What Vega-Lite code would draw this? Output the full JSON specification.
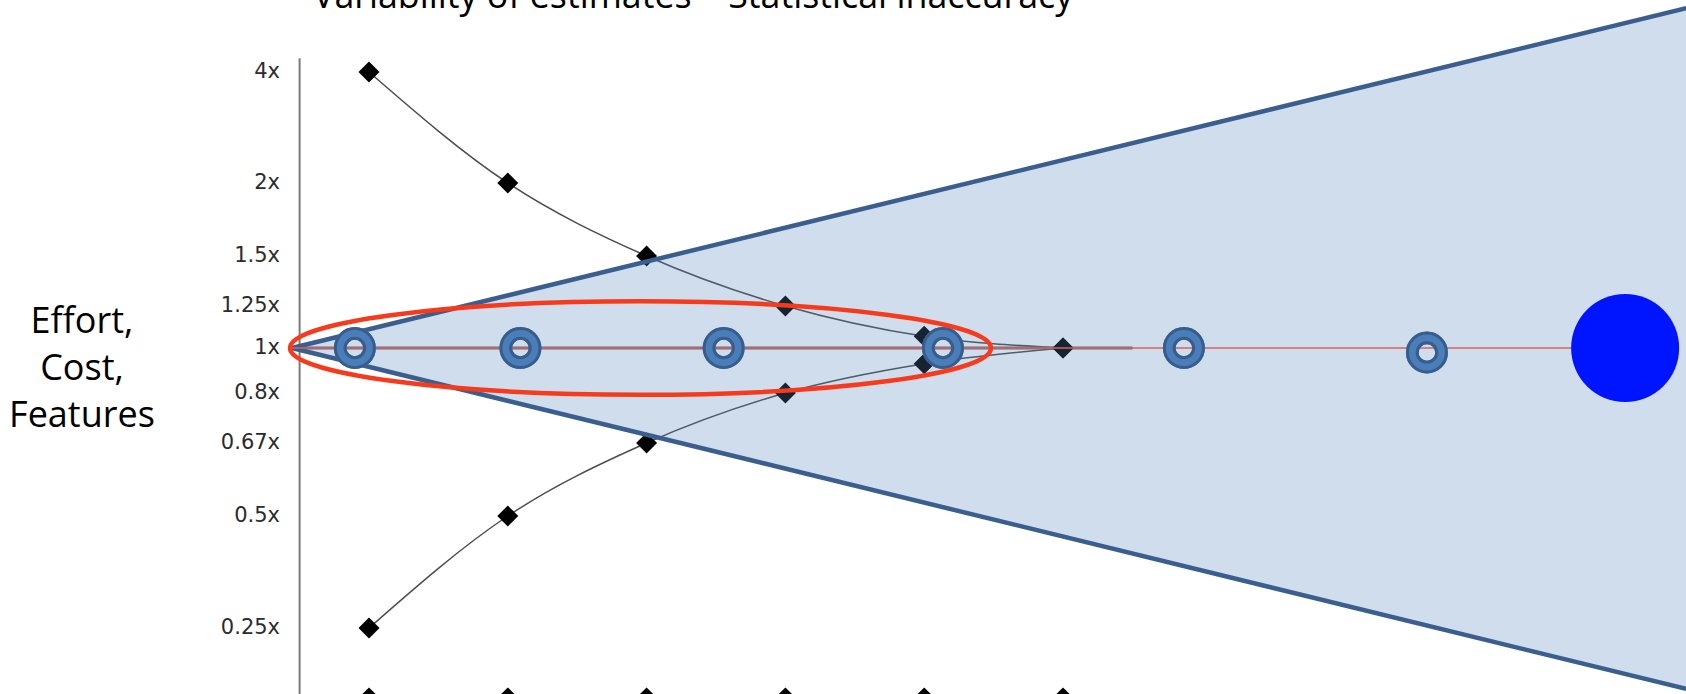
{
  "$schema": "https://vega.github.io/schema/vega-lite/v6.json",
  "width": 1686,
  "height": 694,
  "padding": 0,
  "autosize": "none",
  "background": "white",
  "config": {"view": {"stroke": null}},
  "datasets": {
    "estimates": [
      {"phase": 1, "factor": 4, "bound": "upper"},
      {"phase": 2, "factor": 2, "bound": "upper"},
      {"phase": 3, "factor": 1.5, "bound": "upper"},
      {"phase": 4, "factor": 1.25, "bound": "upper"},
      {"phase": 5, "factor": 1.07, "bound": "upper"},
      {"phase": 6, "factor": 1, "bound": "upper"},
      {"phase": 1, "factor": 0.25, "bound": "lower"},
      {"phase": 2, "factor": 0.5, "bound": "lower"},
      {"phase": 3, "factor": 0.67, "bound": "lower"},
      {"phase": 4, "factor": 0.8, "bound": "lower"},
      {"phase": 5, "factor": 0.93, "bound": "lower"},
      {"phase": 6, "factor": 1, "bound": "lower"}
    ],
    "ticks": [
      {"factor": 4, "label": "4x"},
      {"factor": 2, "label": "2x"},
      {"factor": 1.5, "label": "1.5x"},
      {"factor": 1.25, "label": "1.25x"},
      {"factor": 1, "label": "1x"},
      {"factor": 0.8, "label": "0.8x"},
      {"factor": 0.67, "label": "0.67x"},
      {"factor": 0.5, "label": "0.5x"},
      {"factor": 0.25, "label": "0.25x"}
    ],
    "milestones": [
      {"phase": 1}, {"phase": 2}, {"phase": 3}, {"phase": 4}, {"phase": 5}, {"phase": 6}
    ],
    "baseline": [
      {"phase": 0.5, "factor": 1},
      {"phase": 6.5, "factor": 1}
    ],
    "cone": [
      {"phase": 0.445, "high": 1, "low": 1},
      {"phase": 10.49, "high": 5.15, "low": 0.114}
    ],
    "target": [
      {"phase": 0.445, "factor": 1},
      {"phase": 10.05, "factor": 1}
    ],
    "checkpoints": [
      {"phase": 0.898, "factor": 1},
      {"phase": 2.091, "factor": 1},
      {"phase": 3.555, "factor": 1},
      {"phase": 5.135, "factor": 1},
      {"phase": 6.871, "factor": 1},
      {"phase": 8.622, "factor": 0.98}
    ],
    "goal": [{"phase": 10.05, "factor": 1}],
    "focus": [{"phase": 2.956, "factor": 1}],
    "ylabel": [{"label": "Effort,\nCost,\nFeatures"}],
    "heading": [{"label": "Variability of estimates – Statistical inaccuracy"}]
  },
  "layer": [
    {
      "data": {"values": [{}]},
      "mark": {"type": "rule", "color": "#7a7a7a", "strokeWidth": 2},
      "encoding": {
        "x": {"datum": 0.5, "type": "quantitative", "scale": {"domain": [1, 6], "range": [369, 1063], "nice": false, "zero": false}, "axis": null},
        "y": {"datum": 4.25, "type": "quantitative", "scale": {"domain": [0.25, 0.5, 0.67, 0.8, 1, 1.25, 1.5, 2, 4], "range": [628, 516, 443, 393, 348, 306, 256, 183, 72], "nice": false, "zero": false}, "axis": null},
        "y2": {"datum": 0.09}
      }
    },
    {
      "data": {"name": "ticks"},
      "mark": {"type": "text", "font": "DejaVu Sans", "fontSize": 21, "color": "#2b2b2b", "align": "right", "baseline": "middle"},
      "encoding": {
        "text": {"field": "label"},
        "x": {"datum": 0.359, "type": "quantitative", "scale": {"domain": [1, 6], "range": [369, 1063], "nice": false, "zero": false}, "axis": null},
        "y": {"field": "factor", "type": "quantitative", "scale": {"domain": [0.25, 0.5, 0.67, 0.8, 1, 1.25, 1.5, 2, 4], "range": [628, 516, 443, 393, 348, 306, 256, 183, 72], "nice": false, "zero": false}, "axis": null}
      }
    },
    {
      "data": {"name": "estimates"},
      "mark": {"type": "line", "color": "#4d4d4d", "strokeWidth": 1.5, "interpolate": "monotone"},
      "encoding": {
        "x": {"field": "phase", "type": "quantitative", "scale": {"domain": [1, 6], "range": [369, 1063], "nice": false, "zero": false}, "axis": null},
        "y": {"field": "factor", "type": "quantitative", "scale": {"domain": [0.25, 0.5, 0.67, 0.8, 1, 1.25, 1.5, 2, 4], "range": [628, 516, 443, 393, 348, 306, 256, 183, 72], "nice": false, "zero": false}, "axis": null},
        "detail": {"field": "bound"}
      }
    },
    {
      "data": {"name": "baseline"},
      "mark": {"type": "line", "color": "#6a6a6a", "strokeWidth": 3},
      "encoding": {
        "x": {"field": "phase", "type": "quantitative", "scale": {"domain": [1, 6], "range": [369, 1063], "nice": false, "zero": false}, "axis": null},
        "y": {"field": "factor", "type": "quantitative", "scale": {"domain": [0.25, 0.5, 0.67, 0.8, 1, 1.25, 1.5, 2, 4], "range": [628, 516, 443, 393, 348, 306, 256, 183, 72], "nice": false, "zero": false}, "axis": null}
      }
    },
    {
      "data": {"name": "estimates"},
      "mark": {"type": "point", "shape": "diamond", "filled": true, "color": "#000000", "size": 440, "opacity": 1},
      "encoding": {
        "x": {"field": "phase", "type": "quantitative", "scale": {"domain": [1, 6], "range": [369, 1063], "nice": false, "zero": false}, "axis": null},
        "y": {"field": "factor", "type": "quantitative", "scale": {"domain": [0.25, 0.5, 0.67, 0.8, 1, 1.25, 1.5, 2, 4], "range": [628, 516, 443, 393, 348, 306, 256, 183, 72], "nice": false, "zero": false}, "axis": null}
      }
    },
    {
      "data": {"name": "milestones"},
      "mark": {"type": "point", "shape": "diamond", "filled": true, "color": "#000000", "size": 440, "opacity": 1},
      "encoding": {
        "x": {"field": "phase", "type": "quantitative", "scale": {"domain": [1, 6], "range": [369, 1063], "nice": false, "zero": false}, "axis": null},
        "y": {"datum": 0.094, "type": "quantitative", "scale": {"domain": [0.25, 0.5, 0.67, 0.8, 1, 1.25, 1.5, 2, 4], "range": [628, 516, 443, 393, 348, 306, 256, 183, 72], "nice": false, "zero": false}, "axis": null}
      }
    },
    {
      "data": {"name": "cone"},
      "mark": {"type": "area", "color": "#4F81BD", "opacity": 0.27},
      "encoding": {
        "x": {"field": "phase", "type": "quantitative", "scale": {"domain": [1, 6], "range": [369, 1063], "nice": false, "zero": false}, "axis": null},
        "y": {"field": "high", "type": "quantitative", "scale": {"domain": [0.25, 0.5, 0.67, 0.8, 1, 1.25, 1.5, 2, 4], "range": [628, 516, 443, 393, 348, 306, 256, 183, 72], "nice": false, "zero": false}, "axis": null},
        "y2": {"field": "low"}
      }
    },
    {
      "data": {"name": "cone"},
      "mark": {"type": "line", "color": "#3A5F8E", "strokeWidth": 4.5},
      "encoding": {
        "x": {"field": "phase", "type": "quantitative", "scale": {"domain": [1, 6], "range": [369, 1063], "nice": false, "zero": false}, "axis": null},
        "y": {"field": "high", "type": "quantitative", "scale": {"domain": [0.25, 0.5, 0.67, 0.8, 1, 1.25, 1.5, 2, 4], "range": [628, 516, 443, 393, 348, 306, 256, 183, 72], "nice": false, "zero": false}, "axis": null}
      }
    },
    {
      "data": {"name": "cone"},
      "mark": {"type": "line", "color": "#3A5F8E", "strokeWidth": 4.5},
      "encoding": {
        "x": {"field": "phase", "type": "quantitative", "scale": {"domain": [1, 6], "range": [369, 1063], "nice": false, "zero": false}, "axis": null},
        "y": {"field": "low", "type": "quantitative", "scale": {"domain": [0.25, 0.5, 0.67, 0.8, 1, 1.25, 1.5, 2, 4], "range": [628, 516, 443, 393, 348, 306, 256, 183, 72], "nice": false, "zero": false}, "axis": null}
      }
    },
    {
      "data": {"name": "target"},
      "mark": {"type": "line", "color": "#D9605B", "strokeWidth": 1.6},
      "encoding": {
        "x": {"field": "phase", "type": "quantitative", "scale": {"domain": [1, 6], "range": [369, 1063], "nice": false, "zero": false}, "axis": null},
        "y": {"field": "factor", "type": "quantitative", "scale": {"domain": [0.25, 0.5, 0.67, 0.8, 1, 1.25, 1.5, 2, 4], "range": [628, 516, 443, 393, 348, 306, 256, 183, 72], "nice": false, "zero": false}, "axis": null}
      }
    },
    {
      "data": {"name": "checkpoints"},
      "mark": {"type": "point", "shape": "circle", "filled": false, "stroke": "#4A7EBB", "strokeWidth": 12.7, "size": 858, "opacity": 1},
      "encoding": {
        "x": {"field": "phase", "type": "quantitative", "scale": {"domain": [1, 6], "range": [369, 1063], "nice": false, "zero": false}, "axis": null},
        "y": {"field": "factor", "type": "quantitative", "scale": {"domain": [0.25, 0.5, 0.67, 0.8, 1, 1.25, 1.5, 2, 4], "range": [628, 516, 443, 393, 348, 306, 256, 183, 72], "nice": false, "zero": false}, "axis": null}
      }
    },
    {
      "data": {"name": "checkpoints"},
      "mark": {"type": "point", "shape": "circle", "filled": false, "stroke": "#385D8A", "strokeWidth": 3, "size": 1521, "opacity": 1},
      "encoding": {
        "x": {"field": "phase", "type": "quantitative", "scale": {"domain": [1, 6], "range": [369, 1063], "nice": false, "zero": false}, "axis": null},
        "y": {"field": "factor", "type": "quantitative", "scale": {"domain": [0.25, 0.5, 0.67, 0.8, 1, 1.25, 1.5, 2, 4], "range": [628, 516, 443, 393, 348, 306, 256, 183, 72], "nice": false, "zero": false}, "axis": null}
      }
    },
    {
      "data": {"name": "checkpoints"},
      "mark": {"type": "point", "shape": "circle", "filled": false, "stroke": "#385D8A", "strokeWidth": 3, "size": 384, "opacity": 1},
      "encoding": {
        "x": {"field": "phase", "type": "quantitative", "scale": {"domain": [1, 6], "range": [369, 1063], "nice": false, "zero": false}, "axis": null},
        "y": {"field": "factor", "type": "quantitative", "scale": {"domain": [0.25, 0.5, 0.67, 0.8, 1, 1.25, 1.5, 2, 4], "range": [628, 516, 443, 393, 348, 306, 256, 183, 72], "nice": false, "zero": false}, "axis": null}
      }
    },
    {
      "data": {"name": "focus"},
      "mark": {"type": "point", "shape": "M-1,0C-1,-0.0736,-0.5523,-0.1333,0,-0.1333C0.5523,-0.1333,1,-0.0736,1,0C1,0.0736,0.5523,0.1333,0,0.1333C-0.5523,0.1333,-1,0.0736,-1,0Z", "filled": false, "stroke": "#F83A1C", "strokeWidth": 4.5, "size": 491401, "opacity": 1},
      "encoding": {
        "x": {"field": "phase", "type": "quantitative", "scale": {"domain": [1, 6], "range": [369, 1063], "nice": false, "zero": false}, "axis": null},
        "y": {"field": "factor", "type": "quantitative", "scale": {"domain": [0.25, 0.5, 0.67, 0.8, 1, 1.25, 1.5, 2, 4], "range": [628, 516, 443, 393, 348, 306, 256, 183, 72], "nice": false, "zero": false}, "axis": null}
      }
    },
    {
      "data": {"name": "goal"},
      "mark": {"type": "point", "shape": "circle", "filled": true, "color": "#0015FF", "size": 11664, "opacity": 1},
      "encoding": {
        "x": {"field": "phase", "type": "quantitative", "scale": {"domain": [1, 6], "range": [369, 1063], "nice": false, "zero": false}, "axis": null},
        "y": {"field": "factor", "type": "quantitative", "scale": {"domain": [0.25, 0.5, 0.67, 0.8, 1, 1.25, 1.5, 2, 4], "range": [628, 516, 443, 393, 348, 306, 256, 183, 72], "nice": false, "zero": false}, "axis": null}
      }
    },
    {
      "data": {"name": "ylabel"},
      "mark": {"type": "text", "font": "Open Sans", "fontSize": 36, "color": "#000000", "align": "center", "baseline": "middle", "lineBreak": "\n", "lineHeight": 47},
      "encoding": {
        "text": {"field": "label"},
        "x": {"datum": -1.068, "type": "quantitative", "scale": {"domain": [1, 6], "range": [369, 1063], "nice": false, "zero": false}, "axis": null},
        "y": {"datum": 1.155, "type": "quantitative", "scale": {"domain": [0.25, 0.5, 0.67, 0.8, 1, 1.25, 1.5, 2, 4], "range": [628, 516, 443, 393, 348, 306, 256, 183, 72], "nice": false, "zero": false}, "axis": null}
      }
    },
    {
      "data": {"name": "heading"},
      "mark": {"type": "text", "font": "Open Sans", "fontSize": 35.8, "color": "#000000", "align": "left", "baseline": "alphabetic"},
      "encoding": {
        "text": {"field": "label"},
        "x": {"datum": 0.597, "type": "quantitative", "scale": {"domain": [1, 6], "range": [369, 1063], "nice": false, "zero": false}, "axis": null},
        "y": {"datum": 5.153, "type": "quantitative", "scale": {"domain": [0.25, 0.5, 0.67, 0.8, 1, 1.25, 1.5, 2, 4], "range": [628, 516, 443, 393, 348, 306, 256, 183, 72], "nice": false, "zero": false}, "axis": null}
      }
    }
  ]
}
